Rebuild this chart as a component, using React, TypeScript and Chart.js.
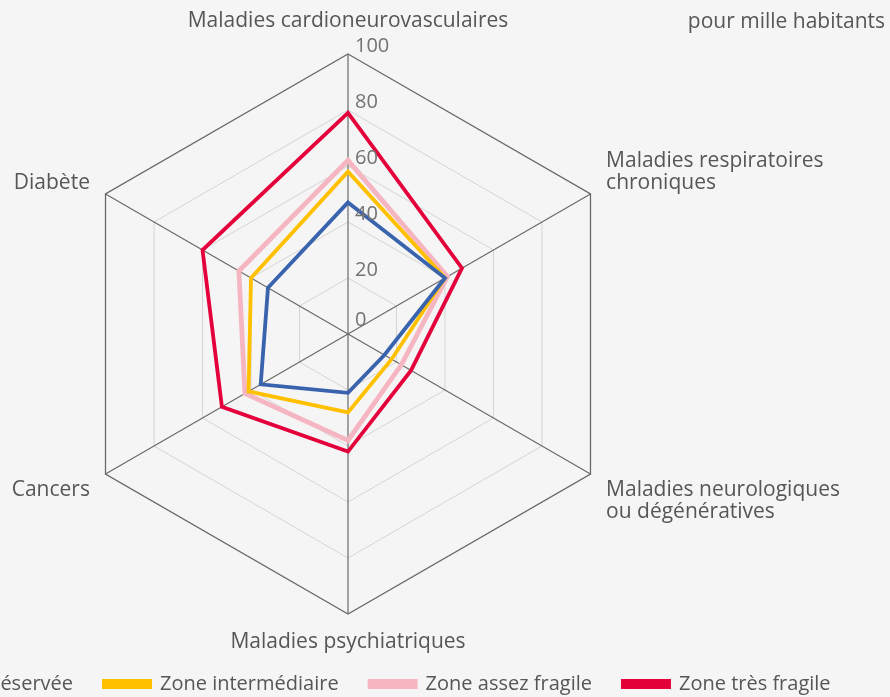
import React, { useEffect, useRef } from "react";
import { Chart, registerables } from "chart.js";

Chart.register(...registerables);

const categories: (string | string[])[] = [
  "Maladies cardioneurovasculaires",
  ["Maladies respiratoires", "chroniques"],
  ["Maladies neurologiques", "ou dégénératives"],
  "Maladies psychiatriques",
  "Cancers",
  "Diabète",
];
const seriesNames = ["Zone préservée", "Zone intermédiaire", "Zone assez fragile", "Zone très fragile"];
const preservee = [47, 40, 15, 21, 36, 33];
const intermediaire = [58, 40, 18, 28, 41, 40];
const assezFragile = [62, 41, 22, 38, 42.5, 45];
const tresFragile = [79, 47, 26, 42, 52, 60];
const tickValues = [0, 20, 40, 60, 80, 100];
const unitLabel = "pour mille habitants";

const seriesColors = ["#3a63ae", "#ffc000", "#f5b6c1", "#e3003b"];
const seriesWidths = [3.8, 3.8, 4.8, 3.8];

const CX = 348;
const CY = 334;
const RADIUS = 280;
const W = 890;
const H = 697;

const overlayPlugin = {
  id: "overlay",
  afterDatasetsDraw(chart: any) {
    const ctx = chart.ctx;
    const scale = chart.scales.r;
    ctx.save();
    ctx.font = "20px 'Open Sans'";
    ctx.fillStyle = "#737373";
    ctx.textAlign = "left";
    ctx.textBaseline = "middle";
    tickValues.forEach((v) => {
      const d = scale.getDistanceFromCenterForValue(v);
      const off = v === 0 ? 14 : 8;
      ctx.fillText(String(v), scale.xCenter + 7, scale.yCenter - d - off);
    });
    ctx.restore();
  },
  afterDraw(chart: any) {
    const ctx = chart.ctx;
    const scale = chart.scales.r;
    const labels = chart.data.labels as (string | string[])[];
    ctx.save();
    ctx.font = "21px 'Open Sans'";
    ctx.fillStyle = "#565656";
    ctx.textBaseline = "alphabetic";
    const lh = 22;
    labels.forEach((lab, i) => {
      const lines = Array.isArray(lab) ? lab : [lab];
      const p = scale.getPointPosition(i, scale.drawingArea + 18);
      const dx = p.x - scale.xCenter;
      const dy = p.y - scale.yCenter;
      let align: CanvasTextAlign = "center";
      let first = 0;
      if (Math.abs(dx) < 1) {
        align = "center";
        first = dy < 0 ? p.y - 9 - (lines.length - 1) * lh : p.y + 16;
      } else {
        align = dx > 0 ? "left" : "right";
        first = dy < 0 ? p.y + 4 - (lines.length - 1) * lh : p.y + 13;
      }
      ctx.textAlign = align;
      lines.forEach((t, k) => ctx.fillText(t, p.x, first + k * lh));
    });
    ctx.textAlign = "right";
    ctx.fillText(unitLabel, 885, 28);
    // legend
    ctx.font = "20px 'Open Sans'";
    const boxW = 50;
    const boxH = 10;
    const gapBT = 8;
    const gap = 29;
    const widths = chart.data.datasets.map((ds: any) => ctx.measureText(ds.label).width);
    let x = 102 - (boxW + gapBT + widths[0] + gap);
    chart.data.datasets.forEach((ds: any, i: number) => {
      ctx.fillStyle = ds.borderColor;
      ctx.fillRect(x, 679, boxW, boxH);
      ctx.fillStyle = "#565656";
      ctx.textAlign = "left";
      ctx.fillText(ds.label, x + boxW + gapBT, 690);
      x += boxW + gapBT + widths[i] + gap;
    });
    ctx.restore();
  },
};

export default function App() {
  const ref = useRef<HTMLCanvasElement | null>(null);
  useEffect(() => {
    if (!ref.current) return;
    const values = [preservee, intermediaire, assezFragile, tresFragile];
    const chart = new Chart(ref.current, {
      type: "radar",
      data: {
        labels: categories,
        datasets: seriesNames.map((name, i) => ({
          label: name,
          data: values[i],
          borderColor: seriesColors[i],
          backgroundColor: seriesColors[i],
          borderWidth: seriesWidths[i],
          borderJoinStyle: "miter" as const,
          pointRadius: 0,
          pointHoverRadius: 0,
          fill: false,
        })),
      },
      options: {
        responsive: false,
        animation: false,
        devicePixelRatio: 1,
        plugins: { legend: { display: false }, tooltip: { enabled: false } },
        layout: { padding: 0 },
        scales: {
          r: {
            min: 0,
            max: 100,
            ticks: { display: false, stepSize: 20 },
            pointLabels: { display: false },
            grid: {
              color: (c: any) => (c.tick && c.tick.value === 100 ? "#6a6a6a" : "#d4d4d4"),
              lineWidth: (c: any) => (c.tick && c.tick.value === 100 ? 1.3 : 1),
            },
            angleLines: { color: "#6a6a6a", lineWidth: 1.2 },
            afterFit: (s: any) => {
              s.xCenter = CX;
              s.yCenter = CY;
              s.drawingArea = RADIUS;
            },
          } as any,
        },
      },
      plugins: [overlayPlugin],
    });
    return () => chart.destroy();
  }, []);
  return (
    <div style={{ position: "fixed", left: 0, top: 0, width: W, height: H, background: "#f5f5f5" }}>
      <canvas ref={ref} width={W} height={H} style={{ display: "block" }} />
    </div>
  );
}
